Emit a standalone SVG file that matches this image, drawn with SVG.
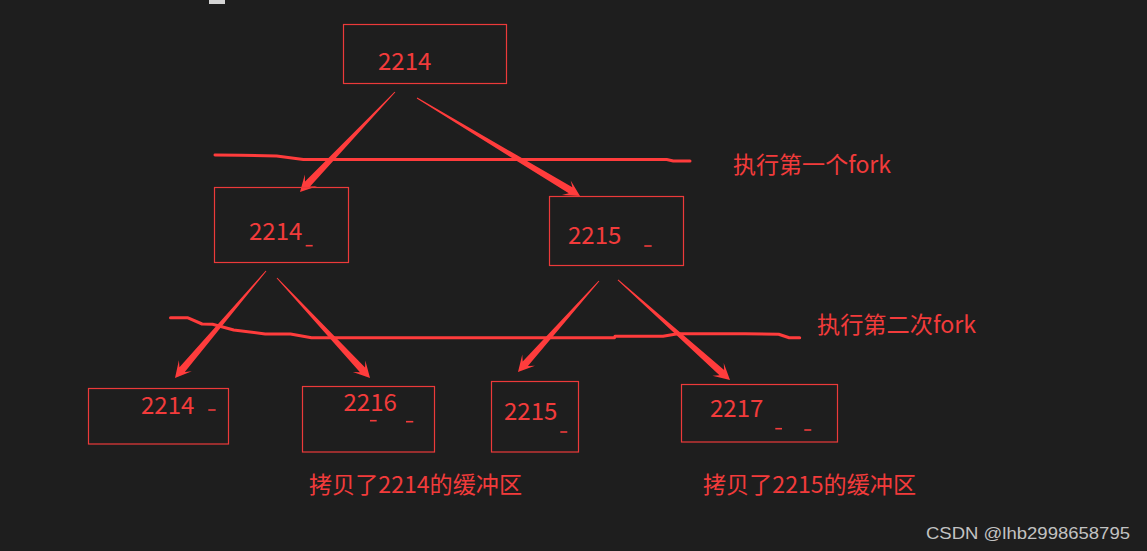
<svg xmlns="http://www.w3.org/2000/svg" width="1147" height="551" viewBox="0 0 1147 551">
<style>
.box{fill:none;stroke:#ec3a3a;stroke-width:1.2}
.num{font-family:"Noto Sans CJK SC","Noto Sans",sans-serif;font-size:24px;fill:#f23b3b}
.lbl{font-family:"Noto Sans CJK SC","Noto Sans",sans-serif;font-size:23px;fill:#f23b3b}
.dash{stroke:#f23b3b;stroke-width:1.6}
.ink{fill:none;stroke:#ff3c3c;stroke-width:3;stroke-linejoin:round;stroke-linecap:round}
.arr{fill:#ff3c3c}
</style>
<rect x="0" y="0" width="1147" height="551" fill="#1e1e1e"/>
<rect x="209" y="0" width="16" height="4" fill="#d4d4d4"/>

<g id="connectors">
  <polyline class="ink" points="215,155 240,155.3 276.7,156 303.3,159.5 666.7,159.5 673.3,161 690,161"/>
  <polyline class="ink" points="170.5,317.7 187.4,317.7 202.1,324 212.6,324.3 233.7,330 265.2,334 290.5,334 311.5,337.7 614.5,337.7 615,336.3 663,336.3 677.7,333.7 745,333.7 778.7,334.3 789.2,337.7 799.7,337.7"/>
  <polygon class="arr" transform="translate(300,192) rotate(133.53)" points="-137.9,-0.5 -11,-3.5 -16,-8.5 0,0 -16,8.5 -11,3.5 -137.9,0.5"/>
  <polygon class="arr" transform="translate(580,196) rotate(31.02)" points="-190.2,-0.5 -11,-3.5 -16,-8.5 0,0 -16,8.5 -11,3.5 -190.2,0.5"/>
  <polygon class="arr" transform="translate(175,378) rotate(130.38)" points="-140.5,-0.5 -11,-3.5 -16,-8.5 0,0 -16,8.5 -11,3.5 -140.5,0.5"/>
  <polygon class="arr" transform="translate(370,378) rotate(47.08)" points="-136.6,-0.5 -11,-3.5 -16,-8.5 0,0 -16,8.5 -11,3.5 -136.6,0.5"/>
  <polygon class="arr" transform="translate(518,372) rotate(131.67)" points="-121.8,-0.5 -11,-3.5 -16,-8.5 0,0 -16,8.5 -11,3.5 -121.8,0.5"/>
  <polygon class="arr" transform="translate(730,380) rotate(41.76)" points="-150.2,-0.5 -11,-3.5 -16,-8.5 0,0 -16,8.5 -11,3.5 -150.2,0.5"/>
</g>

<g id="n1">
  <rect class="box" x="343.5" y="24.5" width="163" height="59"/>
  <text class="num" x="378" y="70">2214</text>
</g>
<g id="n2">
  <rect class="box" x="214.5" y="187.5" width="134" height="75"/>
  <text class="num" x="249" y="239.5">2214</text>
  <line class="dash" x1="305.7" y1="245.7" x2="312.7" y2="245.7"/>
</g>
<g id="n3">
  <rect class="box" x="549.5" y="196.5" width="134" height="69"/>
  <text class="num" x="568" y="244">2215</text>
  <line class="dash" x1="644.3" y1="246" x2="651.7" y2="246"/>
</g>
<g id="n4">
  <rect class="box" x="88.5" y="388.5" width="140" height="55.5"/>
  <text class="num" x="141" y="414">2214</text>
  <line class="dash" x1="208.3" y1="410" x2="215.7" y2="410"/>
</g>
<g id="n5">
  <rect class="box" x="302.5" y="386.5" width="132" height="65.5"/>
  <text class="num" x="343.5" y="411">2216</text>
  <line class="dash" x1="370" y1="420.7" x2="376.7" y2="420.7"/>
  <line class="dash" x1="406" y1="421.7" x2="413.3" y2="421.7"/>
</g>
<g id="n6">
  <rect class="box" x="491.5" y="381.5" width="87" height="70.5"/>
  <text class="num" x="504" y="420">2215</text>
  <line class="dash" x1="560.3" y1="432" x2="567.3" y2="432"/>
</g>
<g id="n7">
  <rect class="box" x="681.5" y="384.5" width="156" height="57.5"/>
  <text class="num" x="710" y="417">2217</text>
  <line class="dash" x1="775.3" y1="428.7" x2="782" y2="428.7"/>
  <line class="dash" x1="804.3" y1="430" x2="811.3" y2="430"/>
</g>

<g id="labels">
  <text class="lbl" x="733" y="173" textLength="158" lengthAdjust="spacingAndGlyphs">执行第一个fork</text>
  <text class="lbl" x="817" y="333" textLength="159" lengthAdjust="spacingAndGlyphs">执行第二次fork</text>
  <text class="lbl" x="309" y="492.5" textLength="213" lengthAdjust="spacingAndGlyphs">拷贝了2214的缓冲区</text>
  <text class="lbl" x="703" y="492.5" textLength="213" lengthAdjust="spacingAndGlyphs">拷贝了2215的缓冲区</text>
</g>
<text x="926" y="538.5" font-family="Liberation Sans, Arial, sans-serif" font-size="17" fill="#c2c2c2" textLength="204" lengthAdjust="spacingAndGlyphs">CSDN @lhb2998658795</text>
</svg>
